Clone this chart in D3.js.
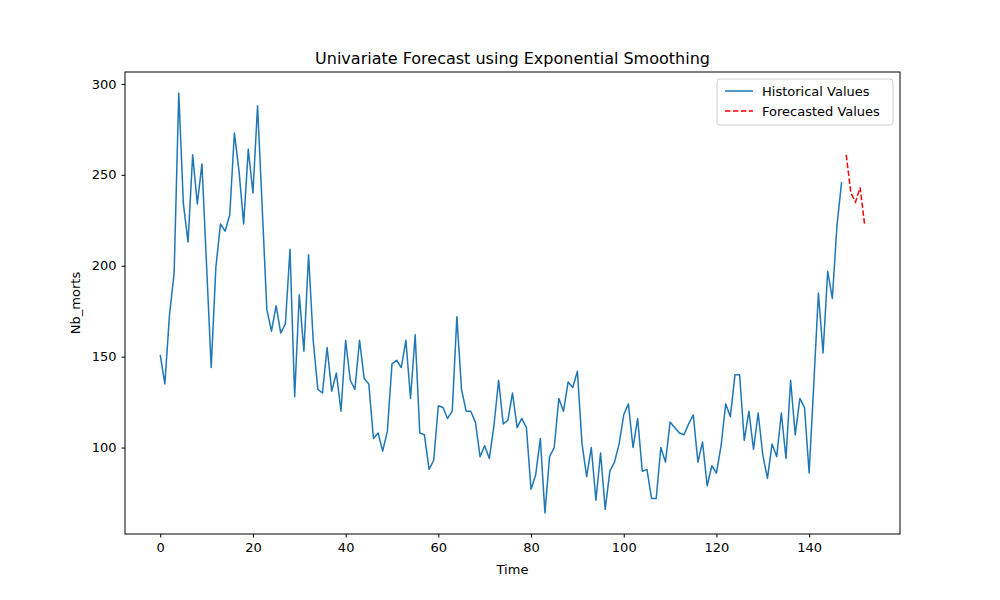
<!DOCTYPE html>
<html>
<head>
<meta charset="utf-8">
<script src="https://cdn.jsdelivr.net/npm/d3@7"></script>
<style>
  body { margin: 0; background: #fff; }
  text { font-family: "DejaVu Sans", sans-serif; }
</style>
</head>
<body>
<svg id="chart" width="1000" height="600"></svg>
<script>
// historical values, index 0..147
var historical = [
  151, 135, 173, 196, 295, 234, 213, 261, 234, 256,
  200, 144, 199, 223, 219, 228, 273, 252, 223, 264,
  240, 288, 232, 176, 164, 178, 163, 168, 209, 128,
  184, 153, 206, 159, 132, 130, 155, 131, 141, 120,
  159, 137, 132, 159, 138, 135, 105, 108, 98, 109,
  146, 148, 144, 159, 127, 162, 108, 107, 88, 93,
  123, 122, 116, 120, 172, 132, 120, 120, 114, 95,
  101, 94, 112, 137, 113, 115, 130, 111, 116, 111,
  77, 85, 105, 64, 95, 100, 127, 120, 136, 133,
  142, 102, 84, 100, 71, 97, 66, 87, 92, 102,
  118, 124, 100, 116, 87, 88, 72, 72, 100, 92,
  114, 111, 108, 107, 113, 118, 92, 103, 79, 90,
  86, 101, 124, 117, 140, 140, 104, 120, 99, 119,
  96, 83, 102, 95, 119, 94, 137, 107, 127, 122,
  86, 135, 185, 152, 197, 182, 222, 246
];
var forecastStart = 148;
var forecast = [261, 240, 235, 243, 222];
var xTicks = [0, 20, 40, 60, 80, 100, 120, 140];
var yTicks = [100, 150, 200, 250, 300];

var histData = historical.map(function(v, i) { return {t: i, v: v}; });
var foreData = forecast.map(function(v, i) { return {t: forecastStart + i, v: v}; });

var svg = d3.select("#chart");
var margin = {left: 125, right: 100, top: 72, bottom: 66};
var w = 1000 - margin.left - margin.right;
var h = 600 - margin.top - margin.bottom;
var g = svg.append("g").attr("transform", "translate(" + margin.left + "," + margin.top + ")");

var all = histData.concat(foreData);
var tMax = d3.max(all, d => d.t);
var vMin = d3.min(all, d => d.v), vMax = d3.max(all, d => d.v);
var padT = tMax * 0.05, padV = (vMax - vMin) * 0.05;

var x = d3.scaleLinear().domain([-padT, tMax + padT]).range([0, w]);
var y = d3.scaleLinear().domain([vMin - padV, vMax + padV]).range([h, 0]);

var line = d3.line().x(d => x(d.t)).y(d => y(d.v));

g.append("path").datum(histData)
  .attr("fill", "none").attr("stroke", "#1f77b4").attr("stroke-width", 1.5)
  .attr("stroke-linejoin", "round").attr("d", line);

g.append("path").datum(foreData)
  .attr("fill", "none").attr("stroke", "red").attr("stroke-width", 1.5)
  .attr("stroke-dasharray", "5.5,2.4").attr("d", line);

var xAxis = g.append("g").attr("transform", "translate(0," + h + ")")
  .call(d3.axisBottom(x).tickValues(xTicks).tickSize(3.5).tickPadding(5));
var yAxis = g.append("g")
  .call(d3.axisLeft(y).tickValues(yTicks).tickSize(3.5).tickPadding(5));
[xAxis, yAxis].forEach(function(a) {
  a.select(".domain").remove();
  a.selectAll("text").attr("font-size", "13px").attr("fill", "#000")
    .style("font-family", "DejaVu Sans, sans-serif");
  a.selectAll("line").attr("stroke", "#000");
});

g.append("rect").attr("width", w).attr("height", h)
  .attr("fill", "none").attr("stroke", "#000").attr("stroke-width", 1);

svg.append("text").attr("x", margin.left + w / 2).attr("y", 64)
  .attr("text-anchor", "middle").attr("font-size", "16px")
  .text("Univariate Forecast using Exponential Smoothing");
svg.append("text").attr("x", margin.left + w / 2).attr("y", 574)
  .attr("text-anchor", "middle").attr("font-size", "13px").text("Time");
svg.append("text").attr("transform", "translate(80," + (margin.top + h / 2) + ") rotate(-90)")
  .attr("text-anchor", "middle").attr("font-size", "13px").text("Nb_morts");

// legend
var lg = g.append("g").attr("transform", "translate(" + (w - 183) + ",7)");
lg.append("rect").attr("width", 176).attr("height", 46).attr("rx", 3)
  .attr("fill", "#fff").attr("fill-opacity", 0.8).attr("stroke", "#ccc");
var items = [
  {label: "Historical Values", color: "#1f77b4", dash: null},
  {label: "Forecasted Values", color: "red", dash: "5.5,2.4"}
];
items.forEach(function(it, i) {
  var yy = 12 + i * 20;
  lg.append("line").attr("x1", 8).attr("x2", 36).attr("y1", yy).attr("y2", yy)
    .attr("stroke", it.color).attr("stroke-width", 1.5).attr("stroke-dasharray", it.dash);
  lg.append("text").attr("x", 45).attr("y", yy + 5).attr("font-size", "13px").text(it.label);
});
</script>
</body>
</html>
